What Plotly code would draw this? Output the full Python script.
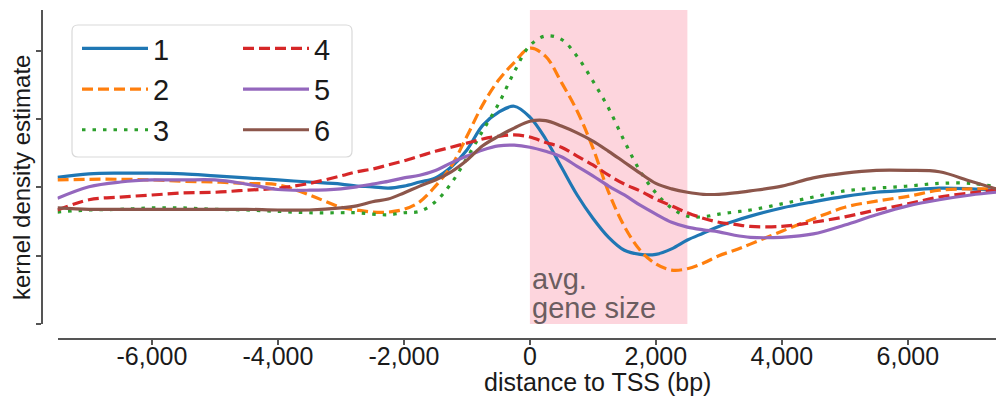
import plotly.graph_objects as go

# ---- data ----
distance_bp = [-7500, -7000, -6500, -6000, -5500, -5000, -4500, -4000, -3500, -3000,
               -2750, -2500, -2250, -2000, -1750, -1500, -1250, -1000, -750, -500,
               -250, 0, 250, 500, 750, 1000, 1250, 1500, 1750, 2000,
               2250, 2500, 2750, 3000, 3250, 3500, 4000, 4500, 5000, 5500,
               6000, 6500, 7000, 7400]

kde_1 = [2.15, 2.20, 2.21, 2.21, 2.20, 2.17, 2.14, 2.11, 2.08, 2.05,
         2.02, 2.01, 1.99, 2.02, 2.08, 2.14, 2.30, 2.55, 2.91, 3.10,
         3.19, 3.03, 2.71, 2.30, 1.89, 1.55, 1.27, 1.08, 1.02, 1.02,
         1.10, 1.23, 1.33, 1.43, 1.51, 1.58, 1.70, 1.79, 1.87, 1.93,
         1.96, 1.99, 1.98, 1.96]
kde_2 = [2.11, 2.12, 2.12, 2.11, 2.09, 2.08, 2.06, 2.04, 1.89, 1.71,
         1.67, 1.64, 1.64, 1.68, 1.79, 2.02, 2.31, 2.75, 3.21, 3.57,
         3.83, 4.04, 3.92, 3.54, 3.12, 2.58, 1.93, 1.43, 1.08, 0.88,
         0.79, 0.81, 0.89, 1.00, 1.08, 1.17, 1.36, 1.54, 1.71, 1.80,
         1.87, 1.96, 1.98, 1.98]
kde_3 = [1.64, 1.67, 1.68, 1.70, 1.70, 1.68, 1.67, 1.65, 1.63, 1.63,
         1.63, 1.61, 1.60, 1.63, 1.65, 1.79, 2.06, 2.43, 2.83, 3.22,
         3.69, 4.08, 4.22, 4.17, 3.92, 3.56, 3.16, 2.68, 2.24, 1.92,
         1.70, 1.58, 1.57, 1.61, 1.64, 1.67, 1.76, 1.86, 1.95, 1.99,
         2.02, 2.06, 2.06, 2.01]
kde_4 = [1.67, 1.82, 1.86, 1.89, 1.92, 1.93, 1.96, 1.99, 2.06, 2.17,
         2.23, 2.27, 2.33, 2.39, 2.46, 2.53, 2.59, 2.65, 2.71, 2.75,
         2.77, 2.74, 2.66, 2.59, 2.46, 2.33, 2.18, 2.05, 1.95, 1.83,
         1.73, 1.63, 1.55, 1.49, 1.46, 1.43, 1.43, 1.49, 1.57, 1.67,
         1.76, 1.86, 1.92, 1.96]
kde_5 = [1.84, 2.01, 2.08, 2.11, 2.11, 2.11, 2.05, 1.97, 1.96, 1.98,
         2.01, 2.05, 2.09, 2.14, 2.18, 2.25, 2.36, 2.46, 2.55, 2.61,
         2.62, 2.59, 2.53, 2.45, 2.31, 2.17, 2.02, 1.89, 1.74, 1.61,
         1.49, 1.42, 1.38, 1.35, 1.30, 1.27, 1.27, 1.32, 1.45, 1.60,
         1.73, 1.82, 1.89, 1.93]
kde_6 = [1.70, 1.68, 1.68, 1.68, 1.68, 1.68, 1.68, 1.67, 1.67, 1.70,
         1.73, 1.79, 1.83, 1.92, 2.02, 2.11, 2.23, 2.40, 2.61, 2.75,
         2.87, 2.97, 2.98, 2.90, 2.80, 2.68, 2.53, 2.37, 2.21, 2.06,
         1.98, 1.93, 1.90, 1.90, 1.92, 1.95, 2.02, 2.14, 2.21, 2.25,
         2.25, 2.23, 2.09, 1.98]

series_names = ["1", "2", "3", "4", "5", "6"]
series_values = [kde_1, kde_2, kde_3, kde_4, kde_5, kde_6]

x_tick_vals = [-6000, -4000, -2000, 0, 2000, 4000, 6000]
x_tick_text = ["-6,000", "-4,000", "-2,000", "0", "2,000", "4,000", "6,000"]
y_tick_vals = [0, 1, 2, 3, 4]

gene_span = [0, 2500]  # avg. gene size band (bp)

# ---- styling ----
colors = ["#1f77b4", "#ff7f0e", "#2ca02c", "#d62728", "#9467bd", "#8c564b"]
dashes = ["solid", "11px,5px", "3.5px,7px", "11px,5px", "solid", "solid"]
legends = ["legend", "legend", "legend", "legend2", "legend2", "legend2"]
FONT = "Liberation Sans, Arial, sans-serif"

W, H = 996, 403
ML, MR, MT, MB = 42, 0, 10, 64
PW = W - ML - MR
PH = H - MT - MB


def px_x(px):
    return (px - ML) / PW


def px_y(py):
    return (H - MB - py) / PH


fig = go.Figure()
for name, vals, c, d, lg in zip(series_names, series_values, colors, dashes, legends):
    fig.add_trace(go.Scatter(
        x=distance_bp, y=vals, name=name, mode="lines",
        line=dict(color=c, width=3.2, dash=d, shape="spline", smoothing=1.0),
        legend=lg,
    ))

# pink band
fig.add_shape(type="rect", xref="x", yref="y", x0=gene_span[0], x1=gene_span[1],
              y0=0, y1=4.6, fillcolor="rgba(252,192,203,0.66)", line=dict(width=0),
              layer="below")

# legend frame (rounded)
x0, x1 = px_x(72), px_x(352)
y0, y1 = px_y(157), px_y(25)
rx, ry = 6 / PW, 6 / PH
path = (f"M{x0+rx},{y1} L{x1-rx},{y1} Q{x1},{y1} {x1},{y1-ry} "
        f"L{x1},{y0+ry} Q{x1},{y0} {x1-rx},{y0} L{x0+rx},{y0} "
        f"Q{x0},{y0} {x0},{y0+ry} L{x0},{y1-ry} Q{x0},{y1} {x0+rx},{y1} Z")
fig.add_shape(type="path", xref="paper", yref="paper", path=path,
              fillcolor="rgba(255,255,255,0.85)", line=dict(color="#d9d9d9", width=1.2),
              layer="above")

leg_common = dict(font=dict(family=FONT, size=29, color="#1a1a1a"),
                  bgcolor="rgba(0,0,0,0)", borderwidth=0, itemwidth=66,
                  orientation="v", xanchor="left", yanchor="top",
                  itemclick=False, itemdoubleclick=False, tracegroupgap=0)

annotations = [
    dict(text="distance to TSS (bp)", xref="paper", yref="paper",
         x=px_x(597), y=px_y(382), xanchor="center", yanchor="middle",
         showarrow=False, font=dict(family=FONT, size=25, color="#1a1a1a")),
    dict(text="kernel density estimate", xref="paper", yref="paper",
         x=px_x(21), y=px_y(178), xanchor="center", yanchor="middle",
         textangle=-90, showarrow=False,
         font=dict(family=FONT, size=24, color="#1a1a1a")),
    dict(text="avg.", xref="x", yref="paper", x=gene_span[0], y=px_y(279),
         xanchor="left", yanchor="middle", showarrow=False,
         font=dict(family=FONT, size=29, color="#6b5d60")),
    dict(text="gene size", xref="x", yref="paper", x=gene_span[0], y=px_y(308),
         xanchor="left", yanchor="middle", showarrow=False,
         font=dict(family=FONT, size=29, color="#6b5d60")),
]

fig.update_layout(
    width=W, height=H,
    margin=dict(l=ML, r=MR, t=MT, b=MB, pad=0),
    paper_bgcolor="white", plot_bgcolor="white",
    font=dict(family=FONT, color="#1a1a1a"),
    showlegend=True,
    legend=dict(x=px_x(77), y=px_y(23), **leg_common),
    legend2=dict(x=px_x(238), y=px_y(23), **leg_common),
    annotations=annotations,
    xaxis=dict(domain=[px_x(57.5), 1], range=[-7500, 7400], anchor="free", position=0,
               tickvals=x_tick_vals, ticktext=x_tick_text,
               ticks="outside", ticklen=5, tickwidth=1.5, tickcolor="#555",
               showline=True, linecolor="#555", linewidth=1.6,
               showgrid=False, zeroline=False,
               tickfont=dict(family=FONT, size=25, color="#1a1a1a"),
               ticklabelstandoff=-10),
    yaxis=dict(domain=[px_y(324), 1], range=[0, 4.6], anchor="free", position=0,
               tickvals=y_tick_vals, showticklabels=False,
               ticks="outside", ticklen=5, tickwidth=1.5, tickcolor="#555",
               showline=True, linecolor="#555", linewidth=1.6,
               showgrid=False, zeroline=False),
)

fig.write_html("out.html")
